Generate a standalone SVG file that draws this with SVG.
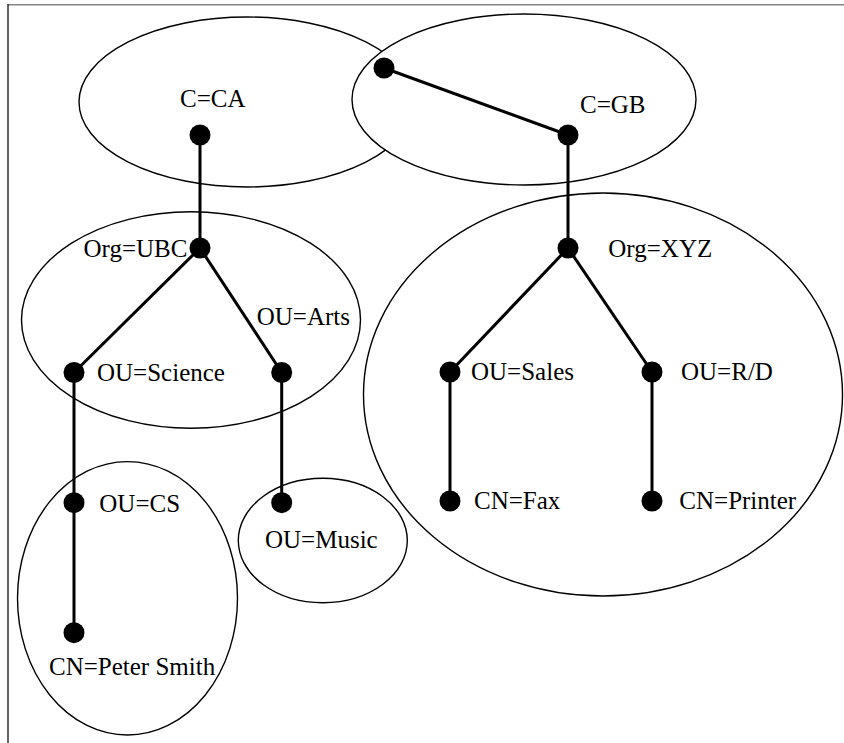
<svg xmlns="http://www.w3.org/2000/svg" width="844" height="743" viewBox="0 0 844 743">
  <style>
    .region { fill: #ffffff; stroke: #000000; stroke-width: 1.4; }
    .edge { stroke: #000000; stroke-width: 3; fill: none; }
    .dot { fill: #000000; }
    .label { font-family: "Liberation Serif", "Times New Roman", serif; font-size: 25px; fill: #000000; }
  </style>
  <rect width="844" height="743" fill="#ffffff"/>
  <g id="frame">
    <line x1="8" y1="4.8" x2="844" y2="4.8" stroke="#858585" stroke-width="1.6"/>
    <line x1="8" y1="4" x2="8" y2="743" stroke="#111111" stroke-width="1.3"/>
  </g>

  <!-- naming-context regions -->
  <g id="regions">
    <ellipse id="region-ca" class="region" cx="247" cy="102" rx="168" ry="85"/>
    <ellipse id="region-gb" class="region" cx="524" cy="99.5" rx="172" ry="85.5"/>
    <ellipse id="region-ubc" class="region" cx="191" cy="320" rx="169.5" ry="108.3"/>
    <ellipse id="region-xyz" class="region" cx="603" cy="394.5" rx="239.5" ry="201.5"/>
    <ellipse id="region-cs" class="region" cx="127.5" cy="598.3" rx="110" ry="136.7"/>
    <ellipse id="region-music" class="region" cx="322.8" cy="540.5" rx="84.5" ry="62.2"/>
  </g>

  <!-- tree edges -->
  <g id="connectors">
    <line class="edge" x1="384" y1="68" x2="568" y2="135"/>
    <line class="edge" x1="568" y1="135" x2="568" y2="248"/>
    <line class="edge" x1="568" y1="248" x2="450" y2="372"/>
    <line class="edge" x1="568" y1="248" x2="652" y2="372"/>
    <line class="edge" x1="450" y1="372" x2="450" y2="501"/>
    <line class="edge" x1="652" y1="372" x2="652" y2="501"/>
    <line class="edge" x1="200" y1="135" x2="200" y2="248"/>
    <line class="edge" x1="200" y1="248" x2="74" y2="372.5"/>
    <line class="edge" x1="200" y1="248" x2="281.7" y2="372.5"/>
    <line class="edge" x1="74" y1="372.5" x2="74" y2="632.7"/>
    <line class="edge" x1="281.7" y1="372.5" x2="281.7" y2="502.7"/>
  </g>

  <g id="node-root">
    <circle class="dot" cx="384" cy="68" r="10.5"/>
  </g>
  <g id="node-ca">
    <circle class="dot" cx="200" cy="135" r="10.5"/>
    <text class="label" x="180" y="107">C=CA</text>
  </g>
  <g id="node-gb">
    <circle class="dot" cx="568" cy="135" r="10.5"/>
    <text class="label" x="580" y="113">C=GB</text>
  </g>
  <g id="node-ubc">
    <circle class="dot" cx="200" cy="248" r="10.5"/>
    <text class="label" x="83.5" y="257">Org=UBC</text>
  </g>
  <g id="node-science">
    <circle class="dot" cx="74" cy="372.5" r="10.5"/>
    <text class="label" x="97" y="381">OU=Science</text>
  </g>
  <g id="node-arts">
    <circle class="dot" cx="281.7" cy="372.5" r="10.5"/>
    <text class="label" x="256.7" y="325">OU=Arts</text>
  </g>
  <g id="node-cs">
    <circle class="dot" cx="74" cy="502.7" r="10.5"/>
    <text class="label" x="99.3" y="511.7">OU=CS</text>
  </g>
  <g id="node-peter">
    <circle class="dot" cx="74" cy="632.7" r="10.5"/>
    <text class="label" x="49" y="675">CN=Peter Smith</text>
  </g>
  <g id="node-music">
    <circle class="dot" cx="281.7" cy="502.7" r="10.5"/>
    <text class="label" x="265" y="548.3">OU=Music</text>
  </g>
  <g id="node-xyz">
    <circle class="dot" cx="568" cy="248" r="10.5"/>
    <text class="label" x="608.3" y="256.7">Org=XYZ</text>
  </g>
  <g id="node-sales">
    <circle class="dot" cx="450" cy="372" r="10.5"/>
    <text class="label" x="471" y="380">OU=Sales</text>
  </g>
  <g id="node-rd">
    <circle class="dot" cx="652" cy="372" r="10.5"/>
    <text class="label" x="681" y="380">OU=R/D</text>
  </g>
  <g id="node-fax">
    <circle class="dot" cx="450" cy="501" r="10.5"/>
    <text class="label" x="474" y="509.3">CN=Fax</text>
  </g>
  <g id="node-printer">
    <circle class="dot" cx="652" cy="501" r="10.5"/>
    <text class="label" x="679.3" y="509.3">CN=Printer</text>
  </g>
</svg>
